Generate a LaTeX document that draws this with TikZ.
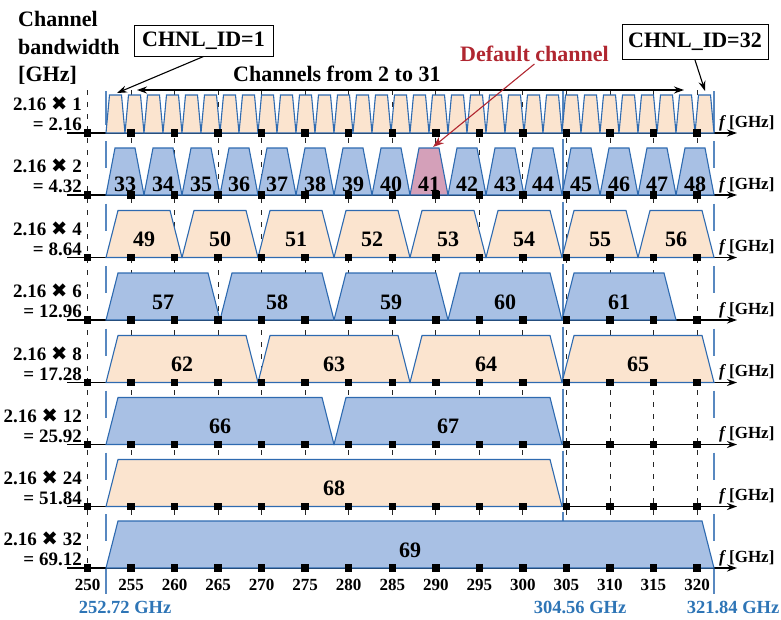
\documentclass[tikz,border=0pt]{standalone}
\usepackage{fontspec}
\setmainfont{Liberation Serif}
\newfontfamily\symfont{DejaVu Sans}
\usetikzlibrary{arrows.meta}
\definecolor{peach}{RGB}{251,228,207}
\definecolor{bluefill}{RGB}{168,192,228}
\definecolor{outline}{RGB}{46,106,176}
\definecolor{pinkfill}{RGB}{212,160,185}
\definecolor{darkred}{RGB}{176,38,48}
\definecolor{labelblue}{RGB}{46,117,182}
\tikzset{
  trap/.style={draw=outline, line width=1.1pt, line join=miter},
  dashline/.style={draw=black!85, line width=0.8pt, dash pattern=on 5pt off 7pt},
  blueline/.style={draw=outline!80, line width=1.1pt},
  axisline/.style={draw=black, line width=1.4pt, -{Stealth[length=10pt,width=7pt]}},
  tick/.style={fill=black},
  bigtxt/.style={font=\bfseries\fontsize{22}{26}\selectfont, inner sep=0pt},
  numtxt/.style={font=\bfseries\fontsize{22}{26}\selectfont, inner sep=0pt, anchor=base},
  lefttxt/.style={font=\bfseries\fontsize{19}{22}\selectfont, inner sep=0pt, anchor=base east},
  axtxt/.style={font=\bfseries\fontsize{17}{20}\selectfont, inner sep=0pt, anchor=base},
  ftxt/.style={font=\bfseries\fontsize{17}{20}\selectfont, inner sep=0pt, anchor=base west},
  ghztxt/.style={font=\bfseries\fontsize{18.5}{22}\selectfont, inner sep=0pt, anchor=base, text=labelblue},
  idbox/.style={draw=black, line width=1pt, font=\bfseries\fontsize{22}{26}\selectfont, inner sep=0pt},
  callout/.style={draw=black, line width=1.1pt, -{Stealth[length=10pt,width=7pt]}},
}
\begin{document}
\begin{tikzpicture}[x=1pt,y=-1pt]
\useasboundingbox (0,0) rectangle (781,619);

% dashed vertical guide lines
\foreach \i in {0,...,14} {
  \pgfmathsetmacro\tx{87.5+\i*5*8.707}
  \draw[dashline] (\tx,90) -- (\tx,572);
}

% blue boundary marks per row
\foreach \ay in {195,257.5,320,382.5,444.5,506.5,568} {
  \draw[blueline] (106,\ay-54) -- (106,\ay-27);
  \draw[blueline] (714,\ay-54) -- (714,\ay-27);
  \draw[blueline] (563,\ay-56) -- (563,\ay);
}
\draw[blueline] (106,91) -- (106,125);
\draw[blueline] (714,91) -- (714,133);
\draw[blueline] (563,90) -- (563,133);
\draw[blueline] (106,568) -- (106,594);
\draw[blueline] (714,568) -- (714,594);

% axes
\foreach \ay in {133,195,257.5,320,382.5,444.5,506.5,568} {
  \draw[axisline] (67,\ay) -- (737,\ay);
}

% channels
\foreach \ay/\h/\ins/\u/\cnt/\id/\rf/\lab/\dy in {
  133/38/3.5/1/32/1/peach/0/0,
  195/47/9/2/16/33/bluefill/1/4,
  257.5/47/12/4/8/49/peach/1/11,
  320/47/12/6/5/57/bluefill/1/11,
  382.5/47/12/8/4/62/peach/1/11,
  444.5/47/12/12/2/66/bluefill/1/11,
  506.5/47/12/24/1/68/peach/1/11,
  568/47/12/32/1/69/bluefill/1/11} {
  \foreach \k in {1,...,\cnt} {
    \pgfmathsetmacro\xa{106+(\k-1)*\u*19}
    \pgfmathsetmacro\xb{\xa+\u*19}
    \pgfmathsetmacro\xm{(\xa+\xb)/2}
    \pgfmathtruncatemacro\cid{\id+\k-1}
    \ifnum\cid=41 \def\fc{pinkfill}\else\def\fc{\rf}\fi
    \draw[trap, fill=\fc] (\xa,\ay) -- (\xa+\ins,\ay-\h) -- (\xb-\ins,\ay-\h) -- (\xb,\ay) -- cycle;
    \ifnum\lab=1
      \node[numtxt] (ch\cid) at (\xm,\ay-\dy) {\cid};
    \fi
  }
}

% tick squares
\foreach \ay in {133,195,257.5,320,382.5,444.5,506.5,568} {
  \foreach \i in {0,...,14} {
    \pgfmathsetmacro\tx{87.5+\i*5*8.707}
    \fill[tick] (\tx-3.75,\ay-3.75) rectangle ++(7.5,7.5);
  }
}

% f [GHz] labels
\foreach \ay [count=\n] in {133,195,257.5,320,382.5,444.5,506.5,568} {
  \node[ftxt] (f\n) at (719,\ay-6) {\textit{f}\,[GHz]};
}

% left labels
\foreach \ay/\m/\v [count=\n] in {133/1/2.16,195/2/4.32,257.5/4/8.64,320/6/12.96,382.5/8/17.28,444.5/12/25.92,506.5/24/51.84,568/32/69.12} {
  \node[lefttxt] (bw\n) at (82,\ay-22.5) {2.16 {\symfont\fontsize{19.5}{22}\selectfont ✖} \m};
  \node[lefttxt] (eq\n) at (82,\ay-2.5) {= \v};
}

% bottom axis numbers
\foreach \i in {0,...,14} {
  \pgfmathsetmacro\tx{87.5+\i*5*8.707}
  \pgfmathtruncatemacro\fv{250+5*\i}
  \node[axtxt] (ax\i) at (\tx,590.5) {\fv};
}
\node[ghztxt] (g1) at (125,613) {252.72 GHz};
\node[ghztxt] (g2) at (580,613) {304.56 GHz};
\node[ghztxt] (g3) at (733,613) {321.84 GHz};

% titles
\node[bigtxt, anchor=base west] (t1) at (18,26.7) {Channel};
\node[bigtxt, anchor=base west] (t2) at (18,54) {bandwidth};
\node[bigtxt, anchor=base west] (t3) at (18,81) {[GHz]};

% ID boxes
\node[idbox, minimum width=139pt, minimum height=31pt] (id1) at (203.5,40.5) {CHNL\_ID=1};
\node[idbox, minimum width=146pt, minimum height=35pt] (id32) at (695,42) {CHNL\_ID=32};
\coordinate (c1tip) at (117,93);
\coordinate (c32tip) at (705,91);
\draw[callout] (id1.south) -- (c1tip);
\draw[callout] (id32.south) -- (c32tip);

% channels from 2 to 31
\node[bigtxt, anchor=base west] (range) at (233,81.5) {Channels from 2 to 31};
\coordinate (rl) at (137,90);
\coordinate (rr) at (684,90);
\draw[draw=black, line width=1.4pt, {Stealth[length=10pt,width=7pt]}-{Stealth[length=10pt,width=7pt]}] (rl) -- (rr);

% default channel
\node[bigtxt, anchor=base west, text=darkred] (defch) at (460,61.5) {Default channel};
\coordinate (t41) at (433,147);
\draw[draw=darkred, line width=1.1pt, -{Stealth[length=11pt,width=8pt]}] (defch.south) ++(0,2) -- (t41);
\end{tikzpicture}
\end{document}
